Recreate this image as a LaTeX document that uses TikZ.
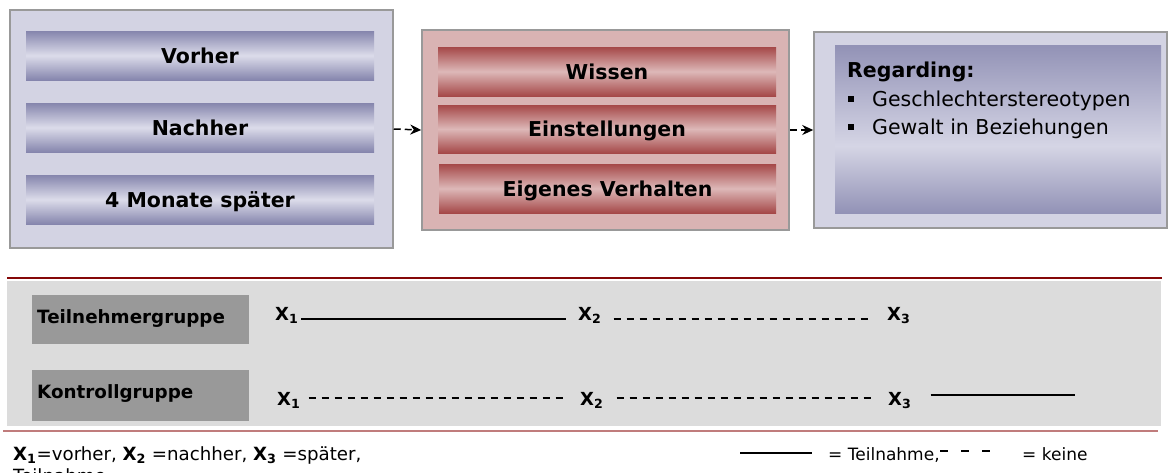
\documentclass[tikz,border=0pt]{standalone}
\usepackage{fontspec}
\setmainfont{DejaVu Sans}
\usetikzlibrary{arrows.meta}
\definecolor{lavbox}{HTML}{D3D3E3}
\definecolor{bardark}{HTML}{8585AD}
\definecolor{barlight}{HTML}{DCDCEA}
\definecolor{pinkbox}{HTML}{D9B3B3}
\definecolor{reddark}{HTML}{A54848}
\definecolor{redlight}{HTML}{DDB8B8}
\definecolor{bordergray}{HTML}{999999}
\definecolor{regdark}{HTML}{9292B6}
\definecolor{reglight}{HTML}{D5D5E5}
\definecolor{panelgray}{HTML}{DCDCDC}
\definecolor{grpgray}{HTML}{999999}
\definecolor{topline}{HTML}{850808}
\definecolor{botline}{HTML}{C07C7C}
\pgfdeclareverticalshading{regshade}{100bp}{color(0bp)=(regdark); color(25bp)=(regdark); color(45bp)=(reglight); color(75bp)=(regdark); color(100bp)=(regdark)}
\newcommand\myBarFont{\fontsize{20.5}{24}\selectfont\bfseries}
\newcommand\myRegFont{\fontsize{20.5}{24}\selectfont}
\newcommand\myGrpFont{\fontsize{18.3}{22}\selectfont\bfseries}
\newcommand\myXFont{\fontsize{18}{22}\selectfont\bfseries}
\newcommand\myLegFont{\fontsize{17}{20}\selectfont}
\newcommand\myLegFontL{\fontsize{18.2}{21}\selectfont}
\newcommand\myBullet{\raisebox{4pt}{\rule{6pt}{6pt}}}
\tikzset{
  outerbox/.style={draw=bordergray, line width=1.5pt, inner sep=0pt},
  bluebar/.style={top color=bardark, bottom color=bardark, middle color=barlight,
    inner sep=0pt, minimum width=348pt, minimum height=49pt, font=\myBarFont,
    text height=15pt, text depth=0pt},
  redbar/.style={top color=reddark, bottom color=reddark, middle color=redlight,
    inner sep=0pt, minimum width=338pt, minimum height=49pt, font=\myBarFont,
    text height=15pt, text depth=0pt},
  flowarrow/.style={line width=1.5pt, dash pattern=on 7pt off 4pt,
    -{Stealth[length=11pt,width=10pt]}},
  grpbox/.style={fill=grpgray, inner sep=0pt, minimum width=217pt},
  grplabel/.style={font=\myGrpFont, inner sep=0pt, anchor=west, text height=13.3pt, text depth=0pt},
  xlab/.style={font=\myXFont, inner sep=0pt, anchor=base west},
  solidl/.style={line width=2pt},
  dashl/.style={line width=2pt, dash pattern=on 7pt off 6pt},
  legtext/.style={font=\myLegFont, inner sep=0pt, anchor=base west},
}
\begin{document}
\begin{tikzpicture}[x=1pt,y=-1pt]
\useasboundingbox (0,0) rectangle (1168,472);
% top left box
\node[outerbox, fill=lavbox, minimum width=383pt, minimum height=238pt] (lbox) at (201.5,129) {};
\node[bluebar] (vorher) at (200,55.5) {Vorher};
\node[bluebar] (nachher) at (200,127.5) {Nachher};
\node[bluebar] (spaeter) at (200,199.5) {4 Monate später};
% middle box
\node[outerbox, fill=pinkbox, minimum width=367pt, minimum height=200pt] (mbox) at (605.5,130) {};
\node[redbar] (wissen) at (607,71.5) {Wissen};
\node[redbar, minimum height=48pt] (einst) at (607,129) {Einstellungen};
\node[redbar, minimum width=337pt] (verh) at (607.5,188.5) {Eigenes Verhalten};
% right box
\node[outerbox, fill=lavbox, minimum width=353pt, minimum height=196pt] (rbox) at (990.5,130) {};
\node[shading=regshade, inner sep=0pt, minimum width=326pt, minimum height=168pt] (rin) at (998,129) {};
\node[font=\myRegFont\bfseries, inner sep=0pt, anchor=base west] (reg) at (847,77) {Regarding:};
\node[font=\myRegFont, inner sep=0pt, anchor=base west] (b1) at (848,106) {\makebox[24pt][l]{\myBullet}Geschlechterstereotypen};
\node[font=\myRegFont, inner sep=0pt, anchor=base west] (b2) at (848,134) {\makebox[24pt][l]{\myBullet}Gewalt in Beziehungen};
% arrows
\draw[flowarrow] (lbox.east) -- (mbox.west);
\draw[flowarrow] (mbox.east) -- (rbox.west);
% bottom panel
\node[fill=panelgray, inner sep=0pt, minimum width=1154pt, minimum height=145pt] (panel) at (584,353.5) {};
\coordinate (tl1) at (7,278);
\coordinate (tl2) at (1162,278);
\draw[topline, line width=2pt] (tl1) -- (tl2);
\coordinate (bl1) at (3,431);
\coordinate (bl2) at (1158,431);
\draw[botline, line width=1.5pt] (bl1) -- (bl2);
% group boxes
\node[grpbox, minimum height=49pt] (tgbox) at (140.5,319.5) {};
\node[grplabel] (tg) at (37,316.5) {Teilnehmergruppe};
\node[grpbox, minimum height=51pt] (kgbox) at (140.5,395.5) {};
\node[grplabel] (kg) at (37,391.5) {Kontrollgruppe};
% row 1
\node[xlab] (t1) at (275,320) {X\textsubscript{1}};
\node[xlab] (t2) at (578,320) {X\textsubscript{2}};
\node[xlab] (t3) at (887,320) {X\textsubscript{3}};
\draw[solidl] ([xshift=2.5pt,yshift=1pt]t1.base east) -- ([xshift=-12pt,yshift=1pt]t2.base west);
\draw[dashl] ([xshift=12pt,yshift=1pt]t2.base east) -- ([xshift=-15pt,yshift=1pt]t3.base west);
% row 2
\node[xlab] (k1) at (277,405) {X\textsubscript{1}};
\node[xlab] (k2) at (580,405) {X\textsubscript{2}};
\node[xlab] (k3) at (888,405) {X\textsubscript{3}};
\coordinate (kend) at (1075,395);
\draw[dashl] ([xshift=8pt,yshift=7pt]k1.base east) -- ([xshift=-12pt,yshift=7pt]k2.base west);
\draw[dashl] ([xshift=13pt,yshift=7pt]k2.base east) -- ([xshift=-16pt,yshift=7pt]k3.base west);
\draw[solidl] ([xshift=19pt,yshift=10pt]k3.base east) -- (kend);
% legend
\node[legtext, font=\myLegFontL] (legx) at (13,460) {\textbf{X\textsubscript{1}}=vorher, \textbf{X\textsubscript{2}} =nachher, \textbf{X\textsubscript{3}} =später,};
\node[legtext, font=\myLegFontL] (legcut) at (13,482) {Teilnahme};
\coordinate (ls1) at (740,453);
\coordinate (ls2) at (812,453);
\draw[solidl] (ls1) -- (ls2);
\node[legtext] (legt) at (828,460) {= Teilnahme,};
\coordinate (ld1) at (940,451);
\coordinate (ld2) at (997,451);
\draw[line width=1.5pt, dash pattern=on 8pt off 13pt] (ld1) -- (ld2);
\node[legtext] (legk) at (1022,460) {= keine};
\end{tikzpicture}
\end{document}
